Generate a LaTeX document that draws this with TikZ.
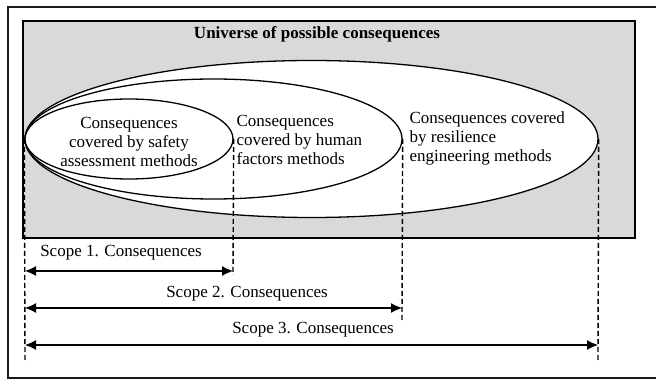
\documentclass[tikz,border=0pt]{standalone}
\usepackage{fontspec}
\setmainfont{Liberation Serif}
\usepackage{xcolor}
\usetikzlibrary{shapes.geometric,arrows.meta}
\definecolor{universe-grau}{HTML}{D9D9D9}
\definecolor{rahmen-schwarz}{HTML}{1A1A1A}

\begin{document}
\begin{tikzpicture}[x=1pt,y=-1pt,
    line width=1.3pt,
    every node/.style={font=\fontsize{17}{19}\selectfont},
    scopeset/.style={ellipse,draw=black,fill=white,inner sep=0pt},
    txt/.style={align=left,inner sep=0pt},
    guide/.style={dash pattern=on 5pt off 3pt,line width=1.4pt},
    span/.style={{Latex[length=11pt,width=10pt]}-{Latex[length=11pt,width=10pt]},line width=1.2pt}]

\useasboundingbox (0,0) rectangle (656,379);

% Rahmen und Universum
\draw[rahmen-schwarz] (8,7) rectangle (680,378);
\draw[fill=universe-grau] (23,21) rectangle (635,238);
\node[font=\fontsize{17}{19}\selectfont\bfseries] (universe) at (317,34) {Universe of possible consequences};

% Ellipsen, von aussen nach innen
\node[scopeset,minimum width=573pt,minimum height=157pt] (resilience) at (311.5,139) {};
\node[scopeset,minimum width=377pt,minimum height=120pt] (human) at (213.5,139) {};
\node[scopeset,minimum width=208pt,minimum height=80pt] (safety) at (129,139) {};

\node[txt,align=center] (safetytxt) at (129,142) {Consequences\\covered by safety\\assessment methods};
\node[txt,anchor=west] (humantxt) at (236,140) {Consequences\\covered by human\\factors methods};
\node[txt,anchor=west] (resiltxt) at (409,138) {Consequences covered\\by resilience\\engineering methods};

% Hilfslinien
\coordinate (g0) at (25,362);
\coordinate (g1) at (233,275);
\coordinate (g2) at (402,320);
\coordinate (g3) at (598,362);
\draw[guide] (safety.west) -- (g0);
\draw[guide] (safety.east) -- (g1);
\draw[guide] (human.east) -- (g2);
\draw[guide] (resilience.east) -- (g3);

% Scopes
\foreach \n/\y/\xr/\lx/\ly in {1/271/233/121/253, 2/308/402/247/294, 3/345/598/313/330} {
    \coordinate (scope\n l) at (25,\y);
    \coordinate (scope\n r) at (\xr,\y);
    \draw[span] (scope\n l) -- (scope\n r);
    \node (scope\n txt) at (\lx,\ly) {Scope \n. Consequences};
}
\end{tikzpicture}
\end{document}
